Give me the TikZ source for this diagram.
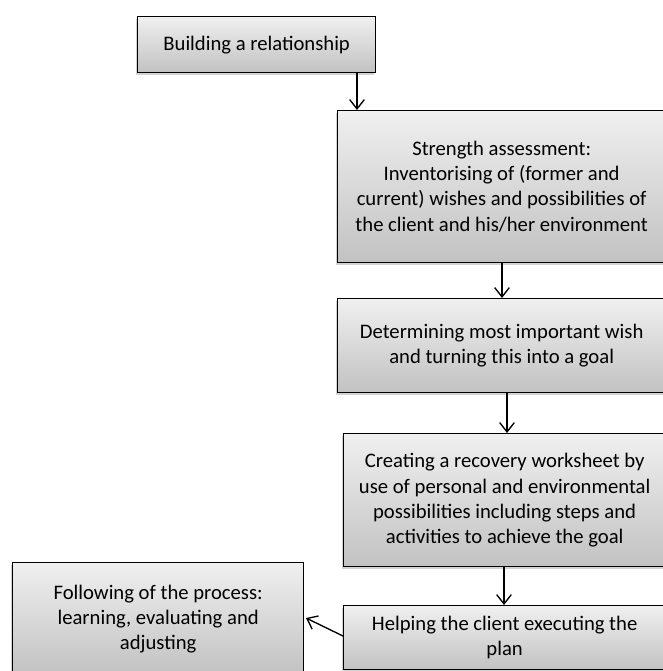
\documentclass[tikz,border=0pt]{standalone}
\usepackage{fontspec}
\setmainfont{Carlito}
\usetikzlibrary{arrows.meta,shadows,calc}
\begin{document}
\begin{tikzpicture}[x=0.75pt,y=-0.75pt,
  stepbox/.style={draw=black,line width=1pt,rectangle,anchor=north west,
    top color=gray!12,bottom color=gray!48,
    drop shadow={shadow xshift=-1.5pt,shadow yshift=-1.5pt,opacity=0.35},
    align=center,inner sep=0pt,
    font=\fontsize{15.5}{18.8}\selectfont},
  conn/.style={line width=1pt,-{Straight Barb[length=7pt,width=11pt,line width=1pt]}}]
\useasboundingbox (0,0) rectangle (663,671);
\clip (0,0) rectangle (663,671);
\node[stepbox,minimum width=238*0.75pt,minimum height=56*0.75pt] (b1) at (137,16) {Building a relationship};
\node[stepbox,minimum width=328*0.75pt,minimum height=152*0.75pt] (b2) at (337,110) {Strength assessment:\\Inventorising of (former and\\current) wishes and possibilities of\\the client and his/her environment};
\node[stepbox,minimum width=328*0.75pt,minimum height=94*0.75pt] (b3) at (337,298) {Determining most important wish\\and turning this into a goal};
\node[stepbox,minimum width=322*0.75pt,minimum height=133*0.75pt] (b4) at (343,433) {Creating a recovery worksheet by\\use of personal and environmental\\possibilities including steps and\\activities to achieve the goal};
\node[stepbox,minimum width=322*0.75pt,minimum height=64*0.75pt] (b5) at (343,605) {Helping the client executing the\\plan};
\node[stepbox,minimum width=291*0.75pt,minimum height=112*0.75pt] (b6) at (12,562) {Following of the process:\\learning, evaluating and\\adjusting};
\draw[conn] (b1.south -| 357,0) -- (b2.north -| 357,0);
\draw[conn] (b2.south -| 502,0) -- (b3.north -| 502,0);
\draw[conn] (b3.south -| 507,0) -- (b4.north -| 507,0);
\draw[conn] (b4.south -| 504,0) -- (b5.north -| 504,0);
\coordinate (tip) at (306,618);
\draw[conn] (b5.west |- 0,636) -- (tip);
\end{tikzpicture}
\end{document}
